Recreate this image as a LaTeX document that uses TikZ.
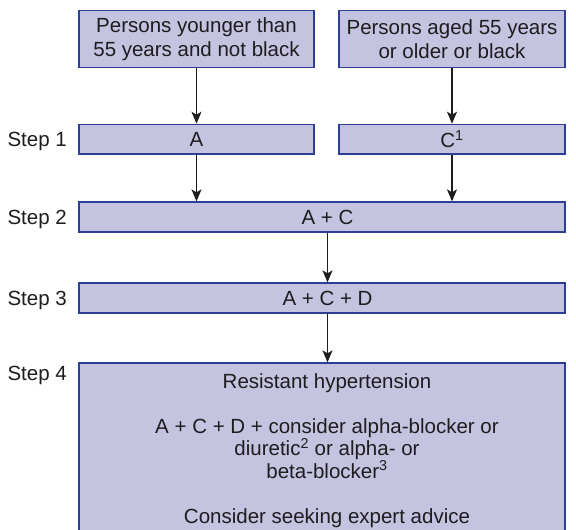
\documentclass[tikz,border=0pt]{standalone}
\usepackage{fontspec}
\setmainfont{Liberation Sans}
\usetikzlibrary{arrows.meta}
\definecolor{boxfill}{RGB}{197,196,224}
\definecolor{boxline}{RGB}{45,62,150}
\definecolor{ink}{RGB}{30,28,30}

\begin{document}
\begin{tikzpicture}[x=1bp,y=-1bp,
  every node/.style={font=\fontsize{20.5bp}{23.5bp}\selectfont, text=ink},
  stepbox/.style={draw=boxline, fill=boxfill, line width=1.3bp, rectangle, inner sep=0pt, align=center},
  steplabel/.style={anchor=base east, inner sep=0pt},
  flow/.style={draw=ink, line width=1.3bp, -{Stealth[length=12bp,width=10bp,inset=3bp]}}
]
\useasboundingbox (0,0) rectangle (576,530);
\clip (0,0) rectangle (576,530);

% patient groups
\node[stepbox, minimum width=235bp, minimum height=56.6bp] (young) at (196.5,39) {Persons younger than\\55 years and not black};
\node[stepbox, minimum width=226bp, minimum height=56.6bp] (old) at (452,39) {Persons aged 55 years\\or older or black};

% step 1
\node[stepbox, minimum width=235bp, minimum height=29.7bp] (a) at (196.5,139.2) {A};
\node[stepbox, minimum width=226bp, minimum height=29.7bp] (c) at (452,139.2) {C\textsuperscript{1}};

% step 2
\node[stepbox, minimum width=486bp, minimum height=30bp] (ac) at (322,217) {};
\node (actxt) at ([xshift=5.5bp]ac.center) {A + C};

% step 3
\node[stepbox, minimum width=486bp, minimum height=30bp] (acd) at (322,298) {};
\node (acdtxt) at ([xshift=5.5bp]acd.center) {A + C + D};

% step 4
\node[stepbox, minimum width=486bp, minimum height=177bp] (resist) at (322,451.5) {};
\node[anchor=north, align=center, inner sep=0pt, font=\fontsize{20.5bp}{22.5bp}\selectfont] (resisttxt) at (327,373)
  {Resistant hypertension\\[22.5bp]
   A + C + D + consider alpha-blocker or\\
   diuretic\textsuperscript{2} or alpha- or\\
   beta-blocker\textsuperscript{3}\\[22.5bp]
   Consider seeking expert advice};

% step labels
\node[steplabel] (l1) at (67,146.7) {Step 1};
\node[steplabel] (l2) at (67,224.5) {Step 2};
\node[steplabel] (l3) at (67,305.5) {Step 3};
\node[steplabel] (l4) at (67,380) {Step 4};

% connectors
\draw[flow] (young.south) -- (a.north);
\draw[flow] (old.south) -- (c.north);
\draw[flow] (a.south) -- (a.south |- ac.north);
\draw[flow] (c.south) -- (c.south |- ac.north);
\draw[flow] ([xshift=5.5bp]ac.south) -- ([xshift=5.5bp]acd.north);
\draw[flow] ([xshift=5.5bp]acd.south) -- ([xshift=5.5bp]resist.north);
\end{tikzpicture}
\end{document}
